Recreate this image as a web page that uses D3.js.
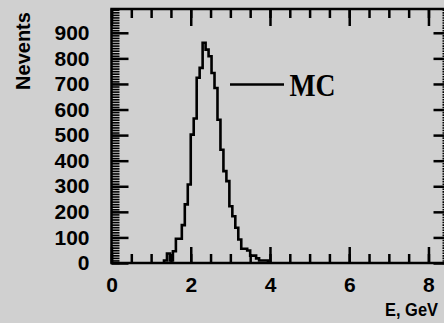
<!DOCTYPE html>
<html>
<head>
<meta charset="utf-8">
<script src="https://cdn.jsdelivr.net/npm/d3@7"></script>
<style>
  html, body { margin: 0; padding: 0; background: #d0d0d0; }
  svg { display: block; }
  .axis text { font-family: "Liberation Sans", Arial, sans-serif; font-weight: bold; font-size: 21px; fill: #000; }
</style>
</head>
<body>
<svg id="chart" width="444" height="323"></svg>
<script>
// ---- data ----
const binStart = 1.325;      // GeV, low edge of first bin
const binWidth = 0.075;      // GeV
const counts = [10, 37, 10, 46, 95, 95, 148, 229, 307, 502, 565, 724, 763, 861,
                834, 808, 743, 684, 560, 443, 359, 320, 222, 183, 138, 92, 56, 56,
                49, 29, 29, 18, 10, 10, 10];
const xMajorTicks = [0, 2, 4, 6, 8];
const yMajorTicks = [0, 100, 200, 300, 400, 500, 600, 700, 800, 900];
const legendLabel = "MC";
const xTitle = "E, GeV";
const yTitle = "Nevents";

// ---- layout ----
const W = 444, H = 323;
const mLeft = 111.5, mRight = 445.5, mTop = 9, mBottom = 263;
const xMax = 8.43, yMax = 993;

const svg = d3.select("#chart");
svg.append("rect").attr("width", W).attr("height", H).attr("fill", "#d0d0d0");

const x = d3.scaleLinear().domain([0, xMax]).range([mLeft, mRight]);
const y = d3.scaleLinear().domain([0, yMax]).range([mBottom, mTop]);

const xMinor = d3.range(0, xMax, 0.5);
const yMinor = d3.range(0, yMax, 10);

function styleAxis(g) {
  g.selectAll(".domain").remove();
  g.selectAll("line").attr("stroke", "#000").attr("stroke-width", 2.5);
}

// bottom axis
svg.append("g").attr("class", "axis").attr("transform", `translate(0,${mBottom})`)
  .call(d3.axisBottom(x).tickValues(xMinor).tickSize(-9).tickFormat(""))
  .call(styleAxis);
svg.append("g").attr("class", "axis").attr("transform", `translate(0,${mBottom})`)
  .call(d3.axisBottom(x).tickValues(xMajorTicks).tickSize(-16).tickPadding(14).tickFormat(d3.format("d")))
  .call(styleAxis);

// top axis
svg.append("g").attr("class", "axis").attr("transform", `translate(0,${mTop})`)
  .call(d3.axisTop(x).tickValues(xMinor).tickSize(-9).tickFormat(""))
  .call(styleAxis);
svg.append("g").attr("class", "axis").attr("transform", `translate(0,${mTop})`)
  .call(d3.axisTop(x).tickValues(xMajorTicks).tickSize(-17).tickFormat(""))
  .call(styleAxis);

// left axis
svg.append("g").attr("class", "axis").attr("transform", `translate(${mLeft},0)`)
  .call(d3.axisLeft(y).tickValues(yMinor).tickSize(-8).tickFormat(""))
  .call(g => { styleAxis(g); g.selectAll("line").attr("stroke-width", 1.6); });
svg.append("g").attr("class", "axis").attr("transform", `translate(${mLeft},0)`)
  .call(d3.axisLeft(y).tickValues(yMajorTicks).tickSize(-17).tickPadding(22).tickFormat(d3.format("d")))
  .call(styleAxis);

// right axis
svg.append("g").attr("class", "axis").attr("transform", `translate(${mRight},0)`)
  .call(d3.axisRight(y).tickValues(yMinor).tickSize(-3).tickFormat(""))
  .call(g => { styleAxis(g); g.selectAll("line").attr("stroke-width", 1.6); });
svg.append("g").attr("class", "axis").attr("transform", `translate(${mRight},0)`)
  .call(d3.axisRight(y).tickValues(yMajorTicks).tickSize(-12).tickFormat(""))
  .call(styleAxis);

// frame
svg.append("rect")
  .attr("x", x(0)).attr("y", y(yMax))
  .attr("width", x(xMax) - x(0)).attr("height", y(0) - y(yMax))
  .attr("fill", "none").attr("stroke", "#000").attr("stroke-width", 2.5);

// histogram outline
const pts = [[binStart, 0]];
counts.forEach((c, i) => {
  pts.push([binStart + i * binWidth, c]);
  pts.push([binStart + (i + 1) * binWidth, c]);
});
pts.push([binStart + counts.length * binWidth, 0]);
svg.append("path")
  .datum(pts)
  .attr("d", d3.line().x(d => x(d[0])).y(d => y(d[1])))
  .attr("fill", "none").attr("stroke", "#000").attr("stroke-width", 2.6)
  .attr("stroke-linejoin", "miter");

// legend
svg.append("line")
  .attr("x1", 230).attr("x2", 284).attr("y1", 84.5).attr("y2", 84.5)
  .attr("stroke", "#000").attr("stroke-width", 2.6);
svg.append("text")
  .attr("x", 289.5).attr("y", 95.5)
  .attr("font-family", "Liberation Serif, 'Times New Roman', serif")
  .attr("font-weight", "bold")
  .attr("font-size", 32)
  .attr("textLength", 46).attr("lengthAdjust", "spacingAndGlyphs")
  .attr("fill", "#000")
  .text(legendLabel);

// axis titles
svg.append("text")
  .attr("x", 385).attr("y", 316)
  .attr("font-family", "Liberation Sans, Arial, sans-serif")
  .attr("font-weight", "bold").attr("font-size", 18)
  .attr("textLength", 53).attr("lengthAdjust", "spacingAndGlyphs")
  .attr("fill", "#000")
  .text(xTitle);
svg.append("text")
  .attr("transform", "translate(23,51) rotate(-90)")
  .attr("text-anchor", "middle").attr("dominant-baseline", "central")
  .attr("font-family", "Liberation Sans, Arial, sans-serif")
  .attr("font-weight", "bold").attr("font-size", 20)
  .attr("fill", "#000")
  .text(yTitle);
</script>
</body>
</html>
